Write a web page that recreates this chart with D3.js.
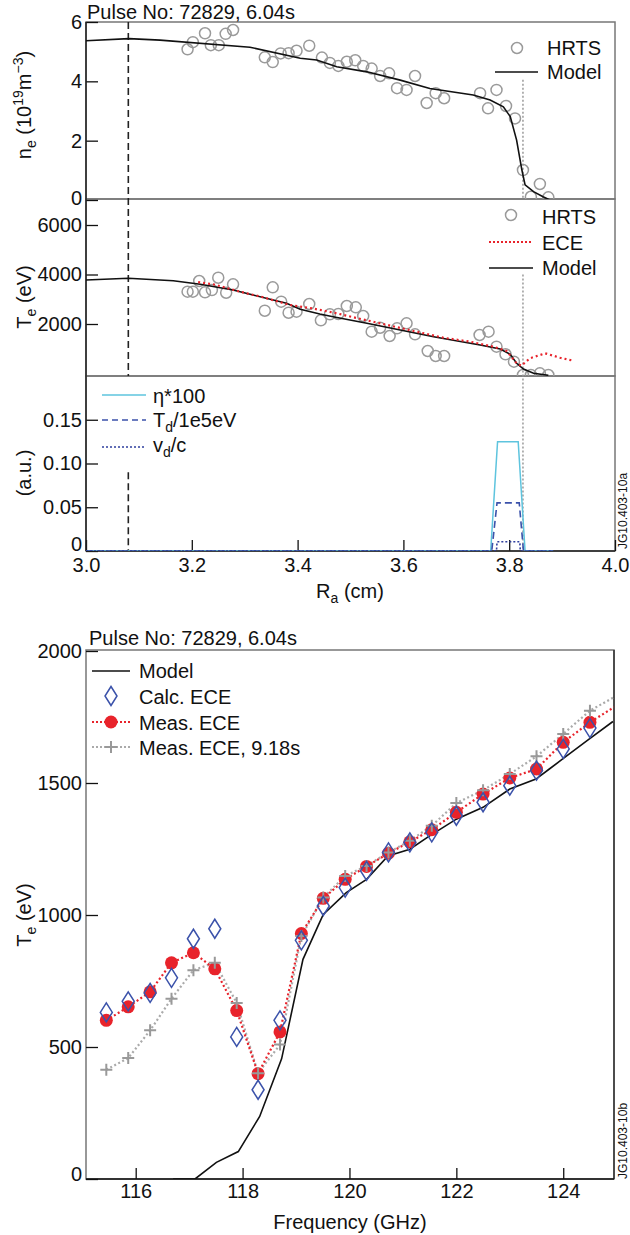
<!DOCTYPE html>
<html>
<head>
<meta charset="utf-8">
<script src="https://cdn.jsdelivr.net/npm/d3@7"></script>
<style>
body { margin: 0; background: #fff; }
text { font-family: "Liberation Sans", Arial, Helvetica, sans-serif; }
</style>
</head>
<body>
<div id="chart"></div>
<script>
// ---- data ----
var pulseTitle = "Pulse No: 72829, 6.04s";

// top figure: [R (cm), value]
var hrtsNe = [[3.192,5.08],[3.202,5.32],[3.225,5.62],[3.236,5.22],[3.251,5.22],[3.264,5.60],[3.278,5.73],
  [3.338,4.81],[3.353,4.65],[3.368,4.94],[3.383,4.95],[3.398,5.03],[3.422,5.20],[3.446,4.80],[3.461,4.62],
  [3.477,4.52],[3.493,4.66],[3.509,4.71],[3.524,4.52],[3.540,4.43],[3.556,4.18],[3.573,4.27],[3.588,3.77],
  [3.606,3.71],[3.622,4.18],[3.644,3.27],[3.661,3.60],[3.677,3.43],[3.745,3.60],[3.760,3.09],[3.776,3.71],
  [3.794,3.17],[3.811,2.75],[3.826,1.01],[3.858,0.54],[3.841,0.11],[3.874,0.09]];
var modelNe = [[3.000,5.37],[3.081,5.44],[3.140,5.39],[3.310,5.15],[3.405,4.78],[3.436,4.72],[3.474,4.49],
  [3.531,4.32],[3.594,4.04],[3.650,3.76],[3.732,3.54],[3.764,3.37],[3.789,3.14],[3.802,2.81],[3.814,2.02],
  [3.824,1.01],[3.830,0.51],[3.846,0.28],[3.864,0.11],[3.877,0.0]];

var hrtsTe = [[3.192,3305],[3.202,3305],[3.214,3737],[3.225,3280],[3.238,3373],[3.250,3870],[3.265,3264],
  [3.278,3604],[3.338,2537],[3.353,3482],[3.369,2901],[3.383,2456],[3.398,2497],[3.422,2808],[3.444,2149],
  [3.461,2392],[3.477,2404],[3.493,2727],[3.510,2674],[3.524,2323],[3.540,1689],[3.556,1850],[3.574,1515],
  [3.588,1826],[3.606,2028],[3.622,1584],[3.646,909],[3.661,707],[3.677,707],[3.744,1555],[3.761,1689],
  [3.776,1083],[3.793,776],[3.809,477],[3.826,-60],[3.841,-60],[3.858,8],[3.874,-60]];
var eceTe = [[3.212,3690],[3.241,3604],[3.291,3305],[3.335,3079],[3.386,2767],[3.427,2634],[3.470,2450],
  [3.510,2250],[3.556,2028],[3.625,1689],[3.675,1447],[3.726,1285],[3.770,1083],[3.795,909],[3.814,412],
  [3.823,315],[3.839,614],[3.868,816],[3.896,638],[3.921,517]];
var modelTe = [[3.000,3777],[3.080,3846],[3.165,3749],[3.216,3604],[3.278,3373],[3.316,3171],[3.379,2836],
  [3.405,2594],[3.442,2404],[3.467,2295],[3.531,2028],[3.594,1757],[3.657,1487],[3.745,1151],[3.783,990],
  [3.802,776],[3.814,412],[3.827,182],[3.846,8],[3.874,-73]];

var etaLine = [[3.0,0],[3.765,0],[3.778,0.125],[3.817,0.125],[3.830,0],[3.883,0]];
var tdLine  = [[3.0,0],[3.767,0],[3.777,0.055],[3.819,0.055],[3.827,0],[3.883,0]];
var vdLine  = [[3.0,0],[3.776,0],[3.777,0.0105],[3.820,0.0105],[3.821,0],[3.883,0]];

var xTicksR = [3.0, 3.2, 3.4, 3.6, 3.8, 4.0];
var neTicks = [0, 2, 4, 6];
var teTicks = [2000, 4000, 6000];
var auTicks = [0, 0.05, 0.10, 0.15];

// bottom figure: frequency (GHz) and Te (eV)
var freqs  = [115.45,115.86,116.27,116.67,117.08,117.48,117.89,118.29,118.70,119.10,119.51,
  119.92,120.32,120.73,121.13,121.54,122.0,122.5,123.0,123.5,124.0,124.5];
var measEce = [601,652,709,819,857,796,638,399,557,930,1063,1135,1184,1234,1277,1323,1389,1458,1519,1553,1654,1730];
var calcEce = [631,673,705,762,910,948,538,338,601,904,1034,1104,1167,1237,1275,1313,1376,1427,1490,1547,1629,1708];
var meas918 = [414,458,563,683,791,819,667,401,509,920,1066,1148,1186,1237,1281,1338,1424,1473,1534,1601,1686,1774];
var edgeFreq = 124.95, measEceEdge = 1787, meas918Edge = 1825;
var modelFreq = [116.70,117.11,117.51,117.92,118.32,118.73,119.13,119.41,119.51,119.94,120.32,120.72,121.13,
  121.50,122.00,122.50,123.00,123.49,123.74,123.99,124.49,124.93];
var modelEce = [0,0,63,104,237,455,832,958,1002,1085,1135,1224,1249,1300,1363,1408,1477,1515,1553,1591,1667,1733];
var freqTicks = [116, 118, 120, 122, 124];
var teTicksB = [0, 500, 1000, 1500, 2000];

// ---- setup ----
var svg = d3.select("#chart").append("svg")
  .attr("width", 630)
  .attr("height", 1235);

var fs = 20;
var red = "#e8232b", grey = "#9a9a9a", blue = "#3b52aa", cyan = "#5ec4de", navy = "#2f3f9e";

var x = d3.scaleLinear().domain([3.0, 4.0]).range([86, 615]);
var panels = [
  {top: 22, bottom: 199, y: d3.scaleLinear().domain([0, 6]).range([200, 22])},
  {top: 199, bottom: 376, y: d3.scaleLinear().domain([0, 6000]).range([373.5, 225])},
  {top: 376, bottom: 551, y: d3.scaleLinear().domain([0, 0.2]).range([551, 376])}
];

var defs = svg.append("defs");
panels.forEach(function(p, i) {
  defs.append("clipPath").attr("id", "clip" + i)
    .append("rect").attr("x", 86).attr("y", p.top)
    .attr("width", 529).attr("height", p.bottom - p.top);
});

function leftAxis(scale, ticks, fmt) {
  return d3.axisLeft(scale).tickValues(ticks).tickFormat(fmt)
    .tickSizeInner(-12).tickSizeOuter(0).tickPadding(4);
}
function styleAxis(g) {
  g.select(".domain").remove();
  g.selectAll("text").attr("font-size", fs).attr("fill", "#111")
    .attr("font-family", "Liberation Sans, Arial, sans-serif");
  g.selectAll("line").attr("stroke", "#111").attr("stroke-width", 1.3);
}
// lift the "0" label a little so it clears the labels below it
function liftZero(g) {
  g.selectAll(".tick").filter(d => d === 0).select("text")
    .attr("transform", "translate(0,-7)");
}

// frames
panels.forEach(function(p) {
  svg.append("rect").attr("x", 86).attr("y", p.top)
    .attr("width", 529).attr("height", p.bottom - p.top)
    .attr("fill", "none").attr("stroke", "#777").attr("stroke-width", 1.5);
});

var p1 = panels[0], p2 = panels[1], p3 = panels[2];

svg.append("g").attr("transform", "translate(86,0)")
  .call(leftAxis(p1.y, neTicks, d3.format("d"))).call(styleAxis)
  .call(g => g.selectAll(".tick").filter(d => d === 0).select("text").attr("transform", "translate(0,-2)"));
svg.append("g").attr("transform", "translate(86,0)")
  .call(leftAxis(p2.y, teTicks, d3.format("d"))).call(styleAxis);
svg.append("g").attr("transform", "translate(86,0)")
  .call(leftAxis(p3.y, auTicks, function(d) { return d === 0 ? "0" : d3.format(".2f")(d); }))
  .call(styleAxis).call(liftZero);
svg.append("g").attr("transform", "translate(0,551)")
  .call(d3.axisBottom(x).tickValues(xTicksR).tickFormat(d3.format(".1f"))
    .tickSizeInner(-11).tickSizeOuter(0).tickPadding(7))
  .call(styleAxis);

svg.append("line").attr("x1", 86).attr("x2", 86).attr("y1", 22).attr("y2", 551)
  .attr("stroke", "#222").attr("stroke-width", 1.5);
svg.append("line").attr("x1", 86).attr("x2", 615).attr("y1", 551).attr("y2", 551)
  .attr("stroke", "#222").attr("stroke-width", 1.5);

// vertical marker lines
var xSep = 3.08, xEdge = 3.826;
svg.append("line").attr("x1", x(xSep)).attr("x2", x(xSep)).attr("y1", 22).attr("y2", 376)
  .attr("stroke", "#222").attr("stroke-width", 1.6).attr("stroke-dasharray", "7,4");
svg.append("line").attr("x1", x(xSep)).attr("x2", x(xSep)).attr("y1", p3.y(0.09)).attr("y2", 551)
  .attr("stroke", "#222").attr("stroke-width", 1.6).attr("stroke-dasharray", "7,4");
svg.append("line").attr("x1", x(xEdge)).attr("x2", x(xEdge)).attr("y1", p1.y(4.05)).attr("y2", 199)
  .attr("stroke", grey).attr("stroke-width", 1.5).attr("stroke-dasharray", "2,2");
svg.append("line").attr("x1", x(xEdge)).attr("x2", x(xEdge)).attr("y1", p2.y(4000)).attr("y2", 551)
  .attr("stroke", grey).attr("stroke-width", 1.5).attr("stroke-dasharray", "2,2");

// panel 1: density
var g1 = svg.append("g").attr("clip-path", "url(#clip0)");
g1.selectAll("circle").data(hrtsNe).enter().append("circle")
  .attr("cx", d => x(d[0])).attr("cy", d => p1.y(d[1])).attr("r", 5.5)
  .attr("fill", "none").attr("stroke", grey).attr("stroke-width", 1.5);
g1.append("path").datum(modelNe)
  .attr("d", d3.line().x(d => x(d[0])).y(d => p1.y(d[1])))
  .attr("fill", "none").attr("stroke", "#111").attr("stroke-width", 1.6);

// panel 2: temperature
var g2 = svg.append("g").attr("clip-path", "url(#clip1)");
g2.selectAll("circle").data(hrtsTe).enter().append("circle")
  .attr("cx", d => x(d[0])).attr("cy", d => p2.y(d[1])).attr("r", 5.5)
  .attr("fill", "none").attr("stroke", grey).attr("stroke-width", 1.5);
g2.append("path").datum(modelTe)
  .attr("d", d3.line().x(d => x(d[0])).y(d => p2.y(d[1])))
  .attr("fill", "none").attr("stroke", "#111").attr("stroke-width", 1.6);
g2.append("path").datum(eceTe)
  .attr("d", d3.line().x(d => x(d[0])).y(d => p2.y(d[1])))
  .attr("fill", "none").attr("stroke", red).attr("stroke-width", 2.2).attr("stroke-dasharray", "2,3");

// panel 3: a.u.
var g3 = svg.append("g").attr("clip-path", "url(#clip2)");
var l3 = d3.line().x(d => x(d[0])).y(d => p3.y(d[1]));
g3.append("path").datum(etaLine).attr("d", l3)
  .attr("fill", "none").attr("stroke", cyan).attr("stroke-width", 1.5);
g3.append("path").datum(tdLine).attr("d", l3)
  .attr("fill", "none").attr("stroke", blue).attr("stroke-width", 1.6).attr("stroke-dasharray", "7,4");
g3.append("path").datum(vdLine).attr("d", l3)
  .attr("fill", "none").attr("stroke", navy).attr("stroke-width", 1.6).attr("stroke-dasharray", "2,2");

// legends top figure
function legText(x0, y0, txt) {
  return svg.append("text").attr("x", x0).attr("y", y0).attr("dy", "0.35em")
    .attr("font-size", fs).attr("fill", "#111").text(txt);
}
svg.append("circle").attr("cx", 517).attr("cy", 48).attr("r", 5.5)
  .attr("fill", "none").attr("stroke", grey).attr("stroke-width", 1.5);
legText(547, 48, "HRTS");
svg.append("line").attr("x1", 495).attr("x2", 538).attr("y1", 72).attr("y2", 72)
  .attr("stroke", "#111").attr("stroke-width", 1.6);
legText(547, 72, "Model");

svg.append("circle").attr("cx", 511).attr("cy", 215).attr("r", 5.5)
  .attr("fill", "none").attr("stroke", grey).attr("stroke-width", 1.5);
legText(542, 217, "HRTS");
svg.append("line").attr("x1", 489).attr("x2", 533).attr("y1", 242).attr("y2", 242)
  .attr("stroke", red).attr("stroke-width", 2.2).attr("stroke-dasharray", "2,2");
legText(542, 243, "ECE");
svg.append("line").attr("x1", 489).attr("x2", 533).attr("y1", 268).attr("y2", 268)
  .attr("stroke", "#111").attr("stroke-width", 1.6);
legText(542, 268, "Model");

svg.append("line").attr("x1", 102).attr("x2", 146).attr("y1", 395).attr("y2", 395)
  .attr("stroke", cyan).attr("stroke-width", 1.5);
legText(153, 396, "η*100");
svg.append("line").attr("x1", 102).attr("x2", 146).attr("y1", 420).attr("y2", 420)
  .attr("stroke", blue).attr("stroke-width", 1.6).attr("stroke-dasharray", "6,4");
var td = legText(153, 420, "T");
td.append("tspan").attr("font-size", 14).attr("dy", 5).text("d");
td.append("tspan").attr("dy", -5).text("/1e5eV");
svg.append("line").attr("x1", 102).attr("x2", 146).attr("y1", 447).attr("y2", 447)
  .attr("stroke", navy).attr("stroke-width", 1.6).attr("stroke-dasharray", "2,2");
var vd = legText(153, 445, "v");
vd.append("tspan").attr("font-size", 14).attr("dy", 5).text("d");
vd.append("tspan").attr("dy", -5).text("/c");

// titles and axis labels top figure
svg.append("text").attr("x", 87).attr("y", 19).attr("font-size", fs).attr("fill", "#111").text(pulseTitle);

var yl1 = svg.append("text").attr("transform", "translate(31,105) rotate(-90)")
  .attr("text-anchor", "middle").attr("font-size", fs).attr("fill", "#111").text("n");
yl1.append("tspan").attr("font-size", 14).attr("dy", 5).text("e");
yl1.append("tspan").attr("dy", -5).text(" (10");
yl1.append("tspan").attr("font-size", 14).attr("dy", -8).text("19");
yl1.append("tspan").attr("dy", 8).text("m");
yl1.append("tspan").attr("font-size", 14).attr("dy", -8).text("−3");
yl1.append("tspan").attr("dy", 8).text(")");

var yl2 = svg.append("text").attr("transform", "translate(31,297) rotate(-90)")
  .attr("text-anchor", "middle").attr("font-size", fs).attr("fill", "#111").text("T");
yl2.append("tspan").attr("font-size", 14).attr("dy", 5).text("e");
yl2.append("tspan").attr("dy", -5).text(" (eV)");

svg.append("text").attr("transform", "translate(31,473) rotate(-90)")
  .attr("text-anchor", "middle").attr("font-size", fs).attr("fill", "#111").text("(a.u.)");

var xl1 = svg.append("text").attr("x", 350).attr("y", 598)
  .attr("text-anchor", "middle").attr("font-size", fs).attr("fill", "#111").text("R");
xl1.append("tspan").attr("font-size", 14).attr("dy", 5).text("a");
xl1.append("tspan").attr("dy", -5).text(" (cm)");

svg.append("text").attr("transform", "translate(627,549) rotate(-90)")
  .attr("font-size", 12).attr("fill", "#111").text("JG10.403-10a");

// ---- bottom figure ----
var xf = d3.scaleLinear().domain([115.07, 124.95]).range([86, 614]);
var yf = d3.scaleLinear().domain([0, 2000]).range([1179, 651]);

defs.append("clipPath").attr("id", "clipB")
  .append("rect").attr("x", 86).attr("y", 650).attr("width", 528).attr("height", 529);

svg.append("rect").attr("x", 86).attr("y", 650).attr("width", 528).attr("height", 529)
  .attr("fill", "none").attr("stroke", "#777").attr("stroke-width", 1.5);
svg.append("line").attr("x1", 614).attr("x2", 614).attr("y1", 650).attr("y2", 1179)
  .attr("stroke", "#333").attr("stroke-width", 1.5);

svg.append("g").attr("transform", "translate(86,0)")
  .call(leftAxis(yf, teTicksB, d3.format("d"))).call(styleAxis)
  .call(g => g.selectAll(".tick").filter(d => d === 0).select("text").attr("transform", "translate(0,-5)"));
svg.append("g").attr("transform", "translate(0,1179)")
  .call(d3.axisBottom(xf).tickValues(freqTicks).tickFormat(d3.format("d"))
    .tickSizeInner(-11).tickSizeOuter(0).tickPadding(5))
  .call(styleAxis);
svg.append("line").attr("x1", 86).attr("x2", 614).attr("y1", 1179).attr("y2", 1179)
  .attr("stroke", "#111").attr("stroke-width", 1.5);

var gb = svg.append("g").attr("clip-path", "url(#clipB)");
var modelPts = modelFreq.map((f, i) => [f, modelEce[i]]);
var measPts = freqs.map((f, i) => [f, measEce[i]]).concat([[edgeFreq, measEceEdge]]);
var m918Pts = freqs.map((f, i) => [f, meas918[i]]).concat([[edgeFreq, meas918Edge]]);
var lineB = d3.line().x(d => xf(d[0])).y(d => yf(d[1]));

gb.append("path").datum(modelPts).attr("d", lineB)
  .attr("fill", "none").attr("stroke", "#111").attr("stroke-width", 1.6);
gb.append("path").datum(m918Pts).attr("d", lineB)
  .attr("fill", "none").attr("stroke", "#aaa").attr("stroke-width", 2.2).attr("stroke-dasharray", "2,2.5");
gb.append("path").datum(measPts).attr("d", lineB)
  .attr("fill", "none").attr("stroke", red).attr("stroke-width", 2.2).attr("stroke-dasharray", "2,2.5");

gb.selectAll(".meas").data(freqs).enter().append("circle").attr("class", "meas")
  .attr("cx", d => xf(d)).attr("cy", (d, i) => yf(measEce[i])).attr("r", 6.5)
  .attr("fill", red);

var plusPath = "M-6,0H6M0,-6V6";
gb.selectAll(".m918").data(freqs).enter().append("path").attr("class", "m918")
  .attr("transform", (d, i) => "translate(" + xf(d) + "," + yf(meas918[i]) + ")")
  .attr("d", plusPath).attr("stroke", "#999").attr("stroke-width", 2).attr("fill", "none");

var diamondPath = "M0,-9.5L6,0L0,9.5L-6,0Z";
gb.selectAll(".calc").data(freqs).enter().append("path").attr("class", "calc")
  .attr("transform", (d, i) => "translate(" + xf(d) + "," + yf(calcEce[i]) + ")")
  .attr("d", diamondPath).attr("stroke", blue).attr("stroke-width", 1.5).attr("fill", "none");

// legend bottom figure
svg.append("line").attr("x1", 92).attr("x2", 130).attr("y1", 671).attr("y2", 671)
  .attr("stroke", "#111").attr("stroke-width", 1.6);
legText(139, 671, "Model");
svg.append("path").attr("transform", "translate(111,696)").attr("d", diamondPath)
  .attr("stroke", blue).attr("stroke-width", 1.5).attr("fill", "none");
legText(139, 697, "Calc. ECE");
svg.append("line").attr("x1", 92).attr("x2", 130).attr("y1", 722).attr("y2", 722)
  .attr("stroke", red).attr("stroke-width", 2.2).attr("stroke-dasharray", "2,2");
svg.append("circle").attr("cx", 111).attr("cy", 722).attr("r", 6.5).attr("fill", red);
legText(139, 723, "Meas. ECE");
svg.append("line").attr("x1", 92).attr("x2", 130).attr("y1", 747).attr("y2", 747)
  .attr("stroke", "#aaa").attr("stroke-width", 2.2).attr("stroke-dasharray", "2,2");
svg.append("path").attr("transform", "translate(111,747)").attr("d", plusPath)
  .attr("stroke", "#999").attr("stroke-width", 2).attr("fill", "none");
legText(139, 748, "Meas. ECE, 9.18s");

svg.append("text").attr("x", 89).attr("y", 645).attr("font-size", fs).attr("fill", "#111").text(pulseTitle);

var yl4 = svg.append("text").attr("transform", "translate(31,915) rotate(-90)")
  .attr("text-anchor", "middle").attr("font-size", fs).attr("fill", "#111").text("T");
yl4.append("tspan").attr("font-size", 14).attr("dy", 5).text("e");
yl4.append("tspan").attr("dy", -5).text(" (eV)");

svg.append("text").attr("x", 350).attr("y", 1229)
  .attr("text-anchor", "middle").attr("font-size", fs).attr("fill", "#111").text("Frequency (GHz)");

svg.append("text").attr("transform", "translate(627,1179) rotate(-90)")
  .attr("font-size", 12).attr("fill", "#111").text("JG10.403-10b");
</script>
</body>
</html>
